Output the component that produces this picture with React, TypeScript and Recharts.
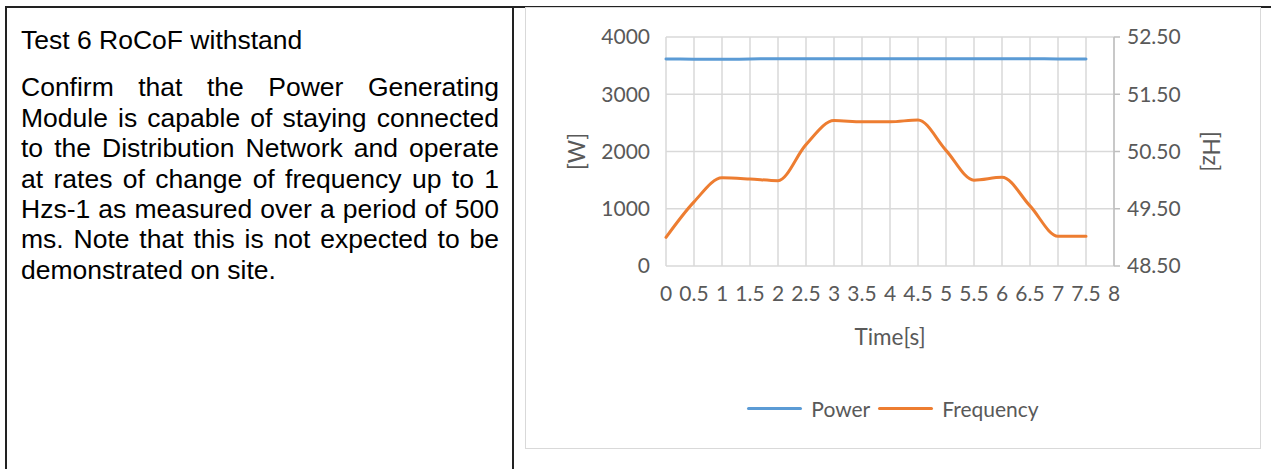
import React from 'react';
import { LineChart, Line, XAxis, YAxis, CartesianGrid, Legend } from 'recharts';

const times = [0, 0.5, 1, 1.5, 2, 2.5, 3, 3.5, 4, 4.5, 5, 5.5, 6, 6.5, 7, 7.5];
const power = [3615, 3613, 3610, 3616, 3620, 3620, 3621, 3620, 3621, 3620, 3618, 3620, 3621, 3620, 3617, 3615];
const frequency = [49.0, 49.62, 50.04, 50.02, 49.99, 50.62, 51.04, 51.02, 51.02, 51.05, 50.52, 50.0, 50.05, 49.55, 49.02, 49.02];

const timeTicks = [0, 0.5, 1, 1.5, 2, 2.5, 3, 3.5, 4, 4.5, 5, 5.5, 6, 6.5, 7, 7.5, 8];
const powerTicks = [0, 1000, 2000, 3000, 4000];
const freqTicks = [48.5, 49.5, 50.5, 51.5, 52.5];

const legendOrder = ['Power', 'Frequency'];

const data = times.map((t, i) => ({ time: t, power: power[i], frequency: frequency[i] }));

const FONT = 'Lato, "Open Sans", sans-serif';
const TEXT = '#595959';
const GRID = '#D9D9D9';

function ChartLegend({ payload }: any) {
  const items = [...(payload || [])].sort((a: any, b: any) => legendOrder.indexOf(a.value) - legendOrder.indexOf(b.value));
  return (
    <div style={{ display: 'flex', justifyContent: 'center', alignItems: 'center', height: 24, fontFamily: FONT, fontSize: 21, color: TEXT }}>
      {items.map((p: any, i: number) => (
        <span key={p.value} style={{ display: 'flex', alignItems: 'center', marginLeft: i === 0 ? 0 : 8 }}>
          <span style={{ display: 'inline-block', width: 55, height: 3, borderRadius: 2, background: p.color, marginRight: 9 }} />
          {p.value}
        </span>
      ))}
    </div>
  );
}

export default function App() {
  const tickStyle = { fontFamily: FONT, fontSize: 21, fill: TEXT };
  const titleStyle = { fontFamily: FONT, fontSize: 22.5, fill: TEXT, textAnchor: 'middle' as const };

  return (
    <div style={{ position: 'absolute', left: 0, top: 0, width: 1271, height: 469, background: '#fff', overflow: 'hidden' }}>
      {/* table borders */}
      <div style={{ position: 'absolute', left: 5, top: 6, width: 1266, height: 1.5, background: '#222' }} />
      <div style={{ position: 'absolute', left: 5, top: 6, width: 1.5, height: 463, background: '#222' }} />
      <div style={{ position: 'absolute', left: 512, top: 6, width: 1.5, height: 463, background: '#222' }} />

      {/* left cell text */}
      <div style={{ position: 'absolute', left: 21, top: 25, width: 478, fontFamily: '"Liberation Sans", Arial, sans-serif', fontSize: 26.5, lineHeight: '30.4px', color: '#000' }}>
        <div>Test 6 RoCoF withstand</div>
        <div style={{ marginTop: 17, textAlign: 'justify' }}>
          Confirm that the Power Generating Module is capable of staying connected to the Distribution Network and operate at rates of change of frequency up to 1 Hzs-1 as measured over a period of 500 ms. Note that this is not expected to be demonstrated on site.
        </div>
      </div>

      {/* chart area border */}
      <div style={{ position: 'absolute', left: 525, top: 7, width: 736, height: 442, border: `1.5px solid ${GRID}`, boxSizing: 'border-box' }} />

      <div style={{ position: 'absolute', left: 526, top: 8 }}>
        <LineChart width={734} height={440} data={data} margin={{ top: 29, right: 0, bottom: 74, left: 0 }}>
          <CartesianGrid yAxisId="left" stroke={GRID} strokeWidth={1.5} />
          <XAxis
            dataKey="time"
            type="number"
            domain={[0, 8]}
            ticks={timeTicks}
            interval={0}
            axisLine={false}
            tickLine={false}
            tickSize={0}
            tickMargin={20}
            height={84}
            tick={tickStyle}
            label={{ value: 'Time[s]', position: 'insideBottom', offset: 5, style: titleStyle }}
          />
          <YAxis
            yAxisId="left"
            domain={[0, 4000]}
            ticks={powerTicks}
            width={140}
            axisLine={false}
            tickLine={false}
            tickSize={0}
            tickMargin={16}
            tick={tickStyle}
            label={{ value: '[W]', angle: -90, position: 'insideLeft', offset: 51, style: titleStyle }}
          />
          <YAxis
            yAxisId="right"
            orientation="right"
            domain={[48.5, 52.5]}
            ticks={freqTicks}
            width={146}
            axisLine={{ stroke: '#BFBFBF', strokeWidth: 1.5 }}
            tickLine={{ stroke: '#BFBFBF', strokeWidth: 1.5 }}
            tickSize={6}
            tickMargin={7}
            tick={tickStyle}
            tickFormatter={(v: number) => v.toFixed(2)}
            label={{ value: '[Hz]', angle: 90, position: 'insideRight', offset: 49, style: titleStyle }}
          />
          <Legend verticalAlign="bottom" align="center" height={24} wrapperStyle={{ bottom: 28 }} content={<ChartLegend />} />
          <Line
            yAxisId="left"
            name="Power"
            dataKey="power"
            type="monotone"
            stroke="#5B9BD5"
            strokeWidth={3}
            strokeLinecap="round"
            dot={false}
            activeDot={false}
            isAnimationActive={false}
          />
          <Line
            yAxisId="right"
            name="Frequency"
            dataKey="frequency"
            type="monotone"
            stroke="#ED7D31"
            strokeWidth={3}
            strokeLinecap="round"
            dot={false}
            activeDot={false}
            isAnimationActive={false}
          />
        </LineChart>
      </div>
    </div>
  );
}
